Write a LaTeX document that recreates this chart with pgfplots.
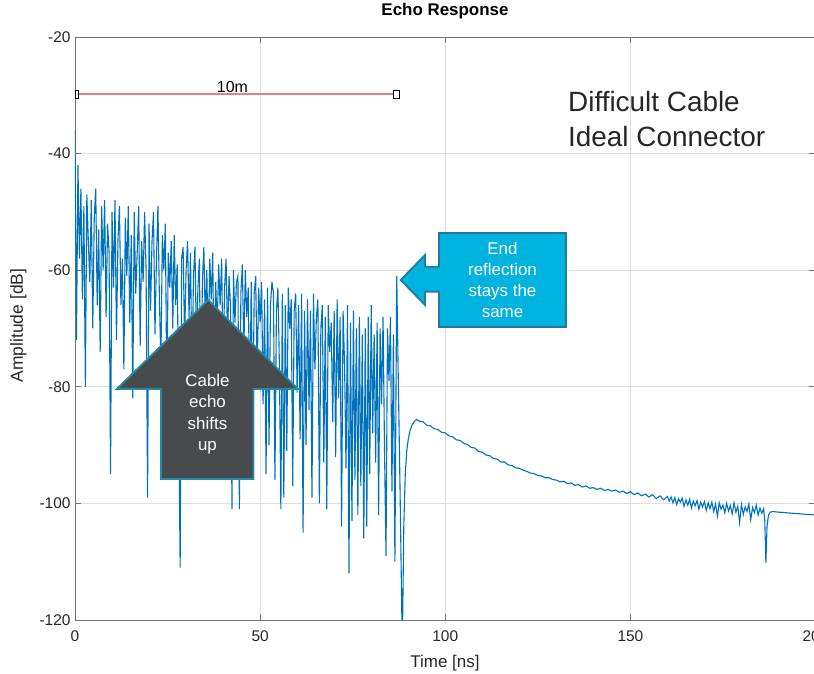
\documentclass[border=0pt]{standalone}
\usepackage{fontspec}
\setmainfont{Liberation Sans}[Ligatures=NoCommon]
\usepackage{pgfplots}
\pgfplotsset{compat=1.18}
\definecolor{mblue}{RGB}{0,114,189}
\definecolor{calloutcyan}{RGB}{0,178,222}
\definecolor{calloutedge}{RGB}{30,125,155}
\definecolor{arrowgray}{RGB}{72,75,78}
\definecolor{arrowedge}{RGB}{35,140,165}
\definecolor{rulered}{RGB}{228,128,128}
\begin{document}
\begin{tikzpicture}
\begin{axis}[
  at={(0,0)}, anchor=south west,
  scale only axis, width=740.5bp, height=583bp,
  xmin=0, xmax=200, ymin=-120, ymax=-20,
  xtick={0,50,100,150,200}, ytick={-120,-100,-80,-60,-40,-20},
  grid=major,
  major grid style={draw=black!13, line width=0.6pt},
  axis line style={draw=black!55, line width=0.8pt},
  every tick/.style={draw=black!55, line width=0.8pt},
  tick align=inside, major tick length=6.5bp,
  /pgf/number format/assume math mode=true,
  ticklabel style={font=\fontsize{15.5}{18}\selectfont, text=black!85},
  xticklabel style={yshift=-7bp},
  yticklabel style={xshift=-1bp},
]
\addplot[color=mblue, line width=1.1bp] table {
0 -36
0.4 -72
0.8 -42
1.2 -58
1.6 -46
2.0 -65
2.4 -49
2.8 -80
3.2 -47
3.6 -55
4.0 -62
4.4 -48
4.8 -70
5.2 -51
5.6 -46
6.0 -66
6.4 -53
6.8 -74
7.2 -49
7.6 -60
8.0 -48
8.4 -68
8.8 -52
9.2 -57
9.6 -95
10.0 -50
10.4 -63
10.8 -48
11.2 -72
11.6 -55
12.0 -49
12.4 -66
12.8 -58
13.2 -77
13.6 -51
14.0 -61
14.4 -49
14.8 -69
15.2 -54
15.6 -82
16.0 -50
16.4 -64
16.8 -57
17.2 -49
17.6 -73
18.0 -55
18.4 -62
18.8 -50
19.2 -60
19.6 -99
20.0 -52
20.4 -67
20.8 -55
21.2 -50
21.6 -71
22.0 -58
22.4 -49
22.8 -65
23.2 -76
23.6 -54
24.0 -60
24.4 -52
24.8 -81
25.2 -57
25.6 -63
26.0 -55
26.4 -70
26.8 -54
27.2 -66
27.6 -59
28.0 -84
28.4 -111
28.8 -58
29.2 -56
29.6 -72
30.0 -60
30.4 -55
30.8 -68
31.2 -57
31.6 -79
32.0 -61
32.4 -56
32.8 -73
33.2 -63
33.6 -58
34.0 -86
34.4 -62
34.8 -56
35.2 -69
35.6 -60
36.0 -75
36.4 -58
36.8 -65
37.2 -57
37.6 -82
38.0 -62
38.4 -70
38.8 -59
39.2 -66
39.6 -58
40.0 -77
40.4 -63
40.8 -58
41.2 -72
41.6 -61
42.0 -66
42.4 -101
42.8 -60
43.2 -69
43.6 -62
44.0 -61
44.4 -101
44.8 -64
45.2 -59
45.6 -74
46.0 -60
46.4 -68
46.8 -63
47.2 -85
47.6 -62
48.0 -88
48.4 -64
48.8 -61
49.2 -78
49.6 -63
50.0 -69
50.4 -62
50.8 -83
51.2 -65
51.6 -95
52.0 -63
52.4 -90
52.8 -66
53.2 -62
53.6 -64
54.0 -96
54.4 -67
54.8 -63
55.2 -76
55.6 -101
56.0 -64
56.4 -99
56.8 -66
57.2 -91
57.6 -63
58.0 -70
58.4 -65
58.8 -97
59.2 -67
59.6 -64
60.0 -81
60.4 -66
60.8 -89
61.2 -64
61.6 -105
62.0 -67
62.4 -90
62.8 -65
63.2 -84
63.6 -67
64.0 -99
64.4 -64
64.8 -77
65.2 -68
65.6 -65
66.0 -100
66.4 -70
66.8 -66
67.2 -93
67.6 -68
68.0 -101
68.4 -66
68.8 -74
69.2 -69
69.6 -86
70.0 -67
70.4 -92
70.8 -65
71.2 -82
71.6 -68
72.0 -104
72.4 -67
72.8 -76
73.2 -94
73.6 -66
74.0 -112
74.4 -69
74.8 -103
75.2 -67
75.6 -96
76.0 -70
76.4 -102
76.8 -68
77.2 -97
77.6 -71
78.0 -106
78.4 -70
78.8 -104
79.2 -68
79.6 -95
80.0 -66
80.4 -88
80.8 -71
81.2 -93
81.6 -69
82.0 -102
82.4 -70
82.8 -83
83.2 -68
83.6 -91
84.0 -109
84.4 -70
84.8 -79
85.2 -68
85.6 -98
86.0 -71
86.4 -110
86.9 -61
87.3 -78
87.8 -98
88.4 -125
88.8 -104
89.2 -95
89.6 -91
90.0 -89
90.5 -87.5
91.0 -86.6
91.6 -86.0
92.2 -85.6
93 -85.9
94 -86.0
95 -86.6
96 -86.7
97 -87.2
98 -87.3
99 -87.8
100 -87.9
101 -88.4
102 -88.6
103 -89.1
104 -89.2
105 -89.7
106 -89.9
107 -90.4
108 -90.5
109 -91.1
110 -91.2
111 -91.7
112 -91.8
113 -92.3
114 -92.4
115 -92.9
116 -92.9
117 -93.4
118 -93.5
119 -93.9
120 -94.0
121 -94.3
122 -94.5
123 -94.8
124 -94.9
125 -95.2
126 -95.3
127 -95.6
128 -95.6
129 -95.9
130 -96.0
131 -96.3
132 -96.2
133 -96.6
134 -96.5
135 -96.9
136 -96.8
137 -97.2
138 -97.0
139 -97.4
140 -97.3
141 -97.6
142 -97.4
143 -97.8
144 -97.6
145 -97.9
146 -97.7
147 -98.1
148 -97.9
149 -98.3
150 -98.0
151 -98.5
152 -98.2
153 -98.7
154 -98.4
155 -98.9
156 -98.5
157 -99.2
158 -98.7
159 -99.4
160 -98.8
160.5 -99.6
161 -98.9
161.5 -99.9
162 -99.0
162.5 -100.2
163 -99.2
163.5 -99.8
164 -99.1
164.5 -100.5
165 -99.4
165.5 -100.3
166 -99.3
166.5 -100.8
167 -99.6
167.5 -100.4
168 -99.5
168.5 -101.0
169 -99.8
169.5 -100.6
170 -99.7
170.5 -101.2
171 -99.9
171.5 -100.9
172 -99.8
172.5 -101.4
173 -100.1
173.5 -102.2
174 -99.9
174.5 -101.0
175 -100.3
175.5 -101.6
176 -100.0
176.5 -101.3
177 -100.4
177.5 -101.8
178 -99.9
178.5 -101.5
179 -100.5
179.5 -103.3
180 -100.2
180.5 -101.9
181 -100.6
181.5 -101.4
182 -100.1
182.5 -102.8
183 -100.7
183.5 -101.6
184 -100.3
184.5 -102.0
185 -100.8
185.5 -101.7
186 -100.9
186.3 -103.0
186.6 -110.2
186.9 -104.0
187.3 -102.0
187.8 -101.5
188.5 -101.4
190 -101.5
192 -101.6
194 -101.7
196 -101.8
198 -101.9
200 -102.0
};
\end{axis}
\begin{scope}[x=1bp,y=1bp]
% title and axis labels
\node[font=\fontsize{17}{20}\selectfont\bfseries, anchor=base, inner sep=0pt] at (370,604) {Echo Response};
\node[font=\fontsize{17}{20}\selectfont, text=black!85, anchor=base, inner sep=0pt] at (370,-47.3) {Time [ns]};
\node[font=\fontsize{17.5}{20}\selectfont, text=black!85, anchor=base, rotate=90, inner sep=0pt] at (-52,294.5) {Amplitude [dB]};
% 10 m marker line
\draw[rulered, line width=1.6bp] (0,526) -- (321,526);
\draw[black, line width=0.6bp, fill=white] (0,522) rectangle (3,530);
\draw[black, line width=0.6bp, fill=white] (318.3,521.5) rectangle (324,529.5);
\node[font=\fontsize{16}{19}\selectfont, anchor=base, inner sep=0pt] at (157.5,527.5) {10m};
% big text
\node[font=\fontsize{28}{35}\selectfont, text=black!85, anchor=base west, align=left, inner sep=0pt] at (493,473.3) {Difficult Cable\\Ideal Connector};
% cyan callout
\draw[calloutedge, line width=1.8bp, fill=calloutcyan, line join=miter]
  (364,387) -- (491,387) -- (491,293) -- (364,293) -- (364,328.3) -- (350,328.3) -- (350,315)
  -- (325.7,340) -- (350,365) -- (350,353.3) -- (364,353.3) -- cycle;
\node[font=\fontsize{17}{21.3}\selectfont, text=white, align=center, inner sep=0pt] at (427.5,340) {End\\reflection\\stays the\\same};
% gray arrow
\draw[arrowedge, line width=1.8bp, fill=arrowgray, line join=miter]
  (133.3,320) -- (223,231) -- (178.5,231) -- (178.5,141) -- (86,141) -- (86,231) -- (41.7,231) -- cycle;
\node[font=\fontsize{17}{21.5}\selectfont, text=white, align=center, inner sep=0pt] at (132.5,206) {Cable\\echo\\shifts\\up};
\pgfresetboundingbox
\useasboundingbox (-75,-54) rectangle (739,620);
\end{scope}
\end{tikzpicture}
\end{document}
